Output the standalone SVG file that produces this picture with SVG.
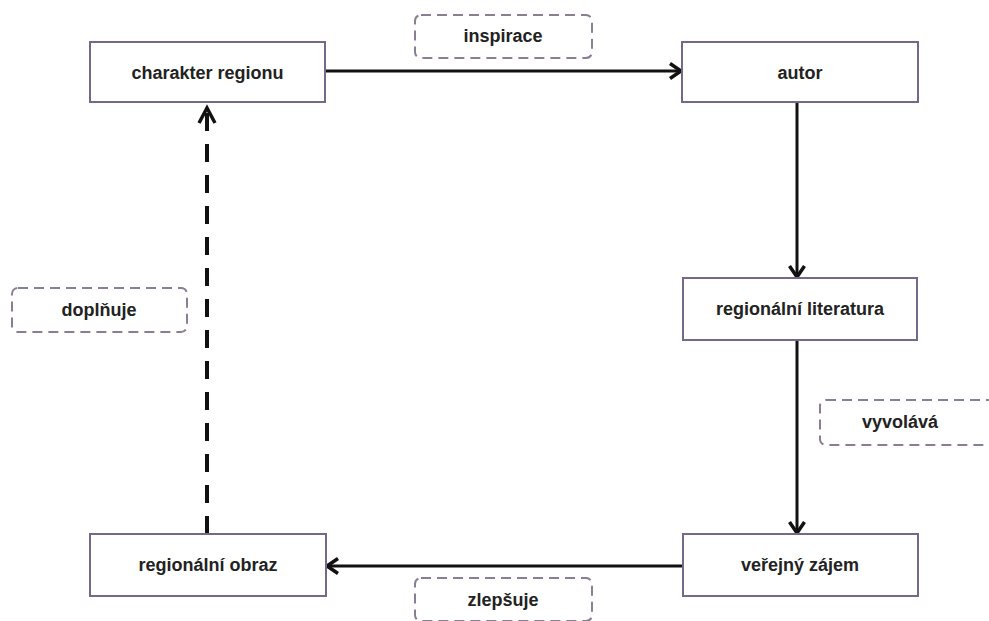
<svg xmlns="http://www.w3.org/2000/svg" width="989" height="621" viewBox="0 0 989 621">
<style>
.node{fill:#fff;stroke:#75688a;stroke-width:2}
.lbl{fill:#fff;stroke:#8a7d96;stroke-width:2;stroke-dasharray:10 6}
.t{font-family:"Liberation Sans",Arial,sans-serif;font-weight:bold;font-size:18px;fill:#222;text-anchor:middle;dominant-baseline:central}
.c{fill:none;stroke:#111;stroke-width:3}
.d{stroke-dasharray:18 13;stroke-width:4}
</style>
<defs>
<marker id="ah" viewBox="0 0 14 18" refX="12.5" refY="9" markerWidth="14" markerHeight="18" markerUnits="userSpaceOnUse" orient="auto">
<path d="M1.5,1.5 L12.5,9 L1.5,16.5" fill="none" stroke="#111" stroke-width="3.5"/>
</marker>
</defs>
<rect width="989" height="621" fill="#fff"/>
<g id="connectors">
<line class="c" x1="325" y1="71" x2="681" y2="71" marker-end="url(#ah)"/>
<line class="c" x1="797" y1="102" x2="797" y2="277" marker-end="url(#ah)"/>
<line class="c" x1="797" y1="340" x2="797" y2="533" marker-end="url(#ah)"/>
<line class="c" x1="683" y1="566" x2="327" y2="566" marker-end="url(#ah)"/>
<line class="c d" x1="207" y1="534" x2="207" y2="112"/>
<path d="M199,123 L207,108 L215,123" fill="none" stroke="#111" stroke-width="3.5"/>
</g>
<g id="n-charakter"><rect class="node" x="90" y="42" width="235" height="60"/><text class="t" x="207.5" y="73">charakter regionu</text></g>
<g id="n-autor"><rect class="node" x="682" y="42" width="236" height="60"/><text class="t" x="800" y="73">autor</text></g>
<g id="n-literatura"><rect class="node" x="683" y="278" width="234" height="62"/><text class="t" x="800" y="309">regionální literatura</text></g>
<g id="n-zajem"><rect class="node" x="683" y="534" width="235" height="62"/><text class="t" x="800" y="565">veřejný zájem</text></g>
<g id="n-obraz"><rect class="node" x="90" y="534" width="236" height="62"/><text class="t" x="208" y="565">regionální obraz</text></g>
<g id="l-inspirace"><rect class="lbl" x="415" y="15" width="177" height="43" rx="6"/><text class="t" x="503" y="36">inspirace</text></g>
<g id="l-doplnuje"><rect class="lbl" x="12" y="288" width="175" height="44" rx="6"/><text class="t" x="99" y="310">doplňuje</text></g>
<g id="l-vyvolava"><rect class="lbl" x="820" y="400" width="177" height="45" rx="6"/><text class="t" x="900" y="422">vyvolává</text></g>
<g id="l-zlepsuje"><rect class="lbl" x="415" y="578" width="177" height="43" rx="6"/><text class="t" x="503" y="600">zlepšuje</text></g>
</svg>
